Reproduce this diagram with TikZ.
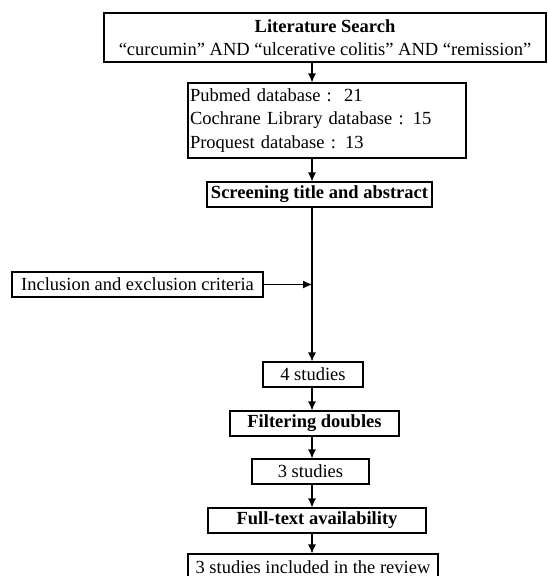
\documentclass[tikz,border=0pt]{standalone}
\usepackage{fontspec}
\setmainfont{Liberation Serif}
\usetikzlibrary{arrows.meta}

\begin{document}
\begin{tikzpicture}[x=1pt, y=-1pt,
  box/.style={draw, rectangle, line width=1.1pt, inner sep=0pt,
    font=\fontsize{18.5}{23.5}\selectfont},
  arr/.style={line width=1.1pt, -{Latex[length=9pt,width=8pt]}}]
  \useasboundingbox (0,0) rectangle (547,576);
  \clip (0,0) rectangle (547,576);
  \coordinate (ax) at (312,0);

  \node[box, minimum width=442, minimum height=49, align=center] (search) at (325,37.5)
    {\textbf{Literature Search}\\“curcumin” AND “ulcerative colitis” AND “remission”};
  \node[box, minimum width=278, minimum height=75, inner xsep=2pt, text width=274, align=left] (db) at (327,120.5)
    {Pubmed database :\ \ 21\\Cochrane Library database : 15\\Proquest database : 13};
  \node[box, minimum width=225, minimum height=25] (screen) at (319.5,194.5) {\textbf{Screening title and abstract}};
  \node[box, minimum width=251, minimum height=25] (crit) at (137.5,284.5) {Inclusion and exclusion criteria};
  \node[box, minimum width=100, minimum height=25] (four) at (313,374.5) {4 studies};
  \node[box, minimum width=169, minimum height=25] (filter) at (314.5,423.5) {\textbf{Filtering doubles}};
  \node[box, minimum width=117, minimum height=25] (three) at (310.5,471.5) {3 studies};
  \node[box, minimum width=218, minimum height=25] (full) at (317,520.5) {\textbf{Full-text availability}};
  \node[box, minimum width=250, minimum height=26] (final) at (313,567) {3 studies included in the review};

  % main flow
  \draw[arr] (search.south -| ax) -- (db.north -| ax);
  \draw[arr] (db.south -| ax) -- (screen.north -| ax);
  \draw[arr] (screen.south -| ax) -- (four.north -| ax);
  \draw[arr] (crit.east) -- (crit.east -| ax);
  \draw[arr] (four.south -| ax) -- (filter.north -| ax);
  \draw[arr] (filter.south -| ax) -- (three.north -| ax);
  \draw[arr] (three.south -| ax) -- (full.north -| ax);
  \draw[arr] (full.south -| ax) -- (final.north -| ax);
\end{tikzpicture}
\end{document}
